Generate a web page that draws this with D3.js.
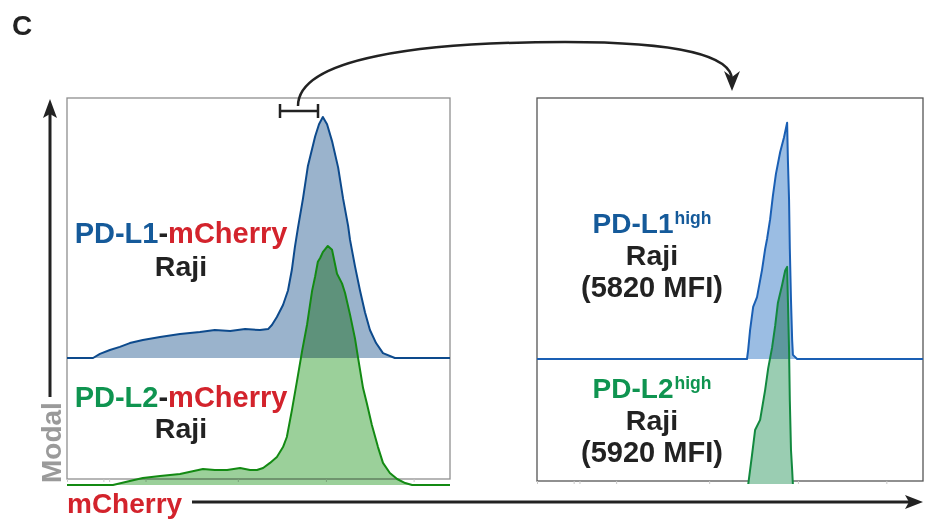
<!DOCTYPE html>
<html>
<head>
<meta charset="utf-8">
<script src="https://cdn.jsdelivr.net/npm/d3@7"></script>
<style>
  body { margin: 0; background: #fff; }
  text { font-family: "Liberation Sans", Arial, sans-serif; font-weight: bold; }
</style>
</head>
<body>
<svg id="canvas"></svg>
<script>
// mCherry channel (0-1000 display units) and % of max (modal)
const l1AllX = [0, 68, 86, 112, 138, 164, 198, 243, 295, 347, 386, 426, 465, 504, 525, 535, 548, 564, 577, 587, 595, 603, 616, 629, 648, 658, 668, 679, 692, 708, 721, 734, 739, 752, 765, 778, 791, 807, 825, 856, 1000];
const l1AllY = [0, 0, 1.7, 3.3, 4.6, 6.2, 7.5, 8.7, 10, 10.8, 11.6, 11.2, 12, 11.6, 12, 13.7, 17, 22, 28, 36.5, 46, 54, 66, 79.7, 92, 97, 100, 97, 90, 79, 66, 54.8, 49, 38, 28, 19, 11.6, 6.2, 2, 0, 0];

const l2AllX = [0, 120, 164, 198, 243, 295, 355, 386, 418, 452, 478, 496, 512, 530, 548, 564, 574, 587, 601, 614, 627, 640, 648, 655, 661, 668, 681, 692, 705, 718, 726, 739, 752, 760, 773, 783, 796, 812, 825, 843, 862, 883, 901, 1000];
const l2AllY = [0, 0, 1.7, 2.9, 3.75, 4.6, 6.7, 6.25, 6.25, 7.1, 6.25, 6.25, 7.1, 9.2, 11.7, 15.8, 20, 31, 43.8, 56, 67, 81, 87, 93, 94.6, 97, 99.6, 98, 88, 84, 80, 71, 61, 53, 40.4, 34, 25, 15.8, 9.2, 5, 2.5, 0.8, 0, 0];

const l1HighX = [0, 544, 547, 552, 560, 570, 583, 591, 596, 604, 611, 619, 630, 640, 648, 650, 653, 655, 658, 661, 663, 674, 1000];
const l1HighY = [0, 0, 3.7, 12, 21.6, 25.7, 37, 45.6, 49.8, 58, 67.6, 76.8, 85.9, 92, 98, 82.6, 66, 45.6, 24.5, 7.9, 1.7, 0, 0];

const l2HighX = [547, 557, 565, 578, 591, 599, 609, 617, 624, 635, 643, 648, 650, 653, 655, 658, 661, 663];
const l2HighY = [0, 12.4, 22.8, 27, 39.4, 48.5, 57, 66, 75.5, 83, 89, 90.5, 76.8, 56, 35, 14.5, 6.2, 0];

const tickChannels = [0, 95, 110, 205, 446, 676, 905];

const svg = d3.select("#canvas").attr("width", 929).attr("height", 521);

const left = { x0: 67, x1: 450, top: 98, bottom: 479, border: "#8f8f8f" };
const right = { x0: 537, x1: 923, top: 98, bottom: 481, border: "#555" };

const xLeft = d3.scaleLinear().domain([0, 1000]).range([left.x0, left.x1]);
const xRight = d3.scaleLinear().domain([0, 1000]).range([right.x0, right.x1]);

const yL1 = d3.scaleLinear().domain([0, 100]).range([358, 117]);
const yL2 = d3.scaleLinear().domain([0, 100]).range([485, 245]);
const yR1 = d3.scaleLinear().domain([0, 100]).range([359, 118]);
const yR2 = d3.scaleLinear().domain([0, 100]).range([485, 244]);

svg.append("defs").append("clipPath").attr("id", "clipRight")
  .append("rect").attr("x", right.x0).attr("y", right.top).attr("width", right.x1 - right.x0 + 3).attr("height", 484 - right.top);

[[left, xLeft], [right, xRight]].forEach(([p, x]) => {
  svg.append("rect")
    .attr("x", p.x0).attr("y", p.top)
    .attr("width", p.x1 - p.x0).attr("height", p.bottom - p.top)
    .attr("fill", "none").attr("stroke", p.border).attr("stroke-width", 1.3);
  const ax = svg.append("g")
    .attr("transform", `translate(0,${p.bottom})`)
    .call(d3.axisBottom(x).tickValues(tickChannels).tickSize(3).tickFormat(""));
  ax.select(".domain").remove();
  ax.selectAll("line").attr("stroke", "#c8c8c8");
});

function drawHist(g, x, y, xs, ys, fill, stroke, blend) {
  const pts = xs.map((c, i) => [c, ys[i]]);
  const area = d3.area().x(d => x(d[0])).y0(y(0)).y1(d => y(d[1]));
  const line = d3.line().x(d => x(d[0])).y(d => y(d[1]));
  g.append("path").datum(pts).attr("d", area).attr("fill", fill)
    .style("mix-blend-mode", blend);
  g.append("path").datum(pts).attr("d", line).attr("fill", "none")
    .attr("stroke", stroke).attr("stroke-width", 2).attr("stroke-linejoin", "round");
}

const gl = svg.append("g");
drawHist(gl, xLeft, yL1, l1AllX, l1AllY, "#9ab3cc", "#0d4a8c", "normal");
drawHist(gl, xLeft, yL2, l2AllX, l2AllY, "#9bd09a", "#138a13", "multiply");

const gr = svg.append("g").attr("clip-path", "url(#clipRight)");
drawHist(gr, xRight, yR1, l1HighX, l1HighY, "#9bbde3", "#1a5fb4", "normal");
drawHist(gr, xRight, yR2, l2HighX, l2HighY, "#9acdb2", "#12893f", "multiply");

// labels
const blue = "#155a9a", green = "#0f9450", red = "#d3232c", dark = "#222";

function label(xc, yb, parts, size) {
  const t = svg.append("text").attr("x", xc).attr("y", yb)
    .attr("text-anchor", "middle").style("font-size", size + "px");
  parts.forEach(p => {
    const s = t.append("tspan").attr("fill", p[1]).text(p[0]);
    if (p[2]) s.style("font-size", p[2] + "px").attr("dy", -9).attr("dx", 1);
  });
}

label(181, 243, [["PD-L1", blue], ["-", dark], ["mCherry", red]], 29);
label(181, 276, [["Raji", dark]], 28.5);
label(181, 407, [["PD-L2", green], ["-", dark], ["mCherry", red]], 29);
label(181, 438, [["Raji", dark]], 28.5);

label(652, 233, [["PD-L1", blue], ["high", blue, 17.5]], 28);
label(652, 265, [["Raji", dark]], 28.5);
label(652, 297, [["(5820 MFI)", dark]], 29);
label(652, 398, [["PD-L2", green], ["high", green, 17.5]], 28);
label(652, 430, [["Raji", dark]], 28.5);
label(652, 462, [["(5920 MFI)", dark]], 29);

svg.append("text").attr("x", 12).attr("y", 35).attr("fill", dark)
  .style("font-size", "28px").text("C");

svg.append("text").attr("transform", "translate(61,483) rotate(-90)")
  .attr("fill", "#9a9a9a").style("font-size", "28px").text("Modal");

svg.append("text").attr("x", 67).attr("y", 513).attr("fill", red)
  .style("font-size", "28px").text("mCherry");

// axis arrows
svg.append("line").attr("x1", 50).attr("x2", 50).attr("y1", 397).attr("y2", 112)
  .attr("stroke", dark).attr("stroke-width", 3);
svg.append("path").attr("d", "M50,99 L57,118 L50,114 L43,118 Z").attr("fill", dark);

svg.append("line").attr("x1", 192).attr("x2", 910).attr("y1", 502).attr("y2", 502)
  .attr("stroke", dark).attr("stroke-width", 3);
svg.append("path").attr("d", "M923,502 L905,495 L909,502 L905,509 Z").attr("fill", dark);

// gate and curved arrow
svg.append("path").attr("d", "M280,111 L318,111 M280,104 L280,118 M318,104 L318,118")
  .attr("stroke", dark).attr("stroke-width", 2.5).attr("fill", "none");
svg.append("path").attr("d", "M298,106 C298,58 420,42 565,42 C680,42 732,56 732,80")
  .attr("stroke", dark).attr("stroke-width", 2.5).attr("fill", "none");
svg.append("path").attr("d", "M732,91 L724,71 L732,77 L740,71 Z").attr("fill", dark);
</script>
</body>
</html>
